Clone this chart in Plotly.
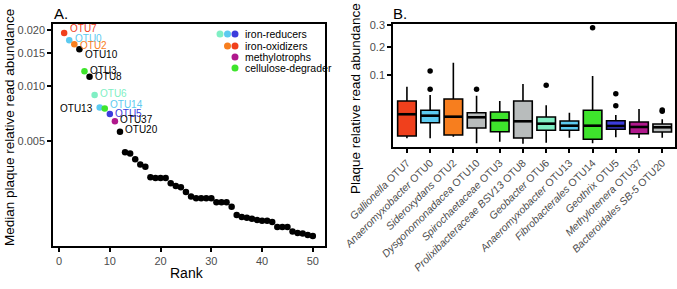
import numpy as np
import plotly.graph_objects as go

# ---------------- Panel A data ----------------
ranks = list(range(1, 51))
median_abund = [0.0194, 0.0177, 0.0168, 0.0158, 0.0120, 0.0112, 0.0089, 0.0076, 0.0075, 0.0070, 0.0064, 0.0056,
                0.00433, 0.00426, 0.00396, 0.00371, 0.00361, 0.00316, 0.00313, 0.00313, 0.00313, 0.00293,
                0.00283, 0.00279, 0.00263, 0.00248, 0.00243, 0.00243, 0.00243, 0.00243, 0.00231, 0.00231,
                0.00231, 0.00218, 0.00197, 0.00192, 0.00190, 0.00188, 0.00185, 0.00183, 0.00183, 0.00180,
                0.00169, 0.00169, 0.00169, 0.00160, 0.00157, 0.00156, 0.00153, 0.00151]
otu_labels = ["OTU7", "OTU0", "OTU2", "OTU10", "OTU3", "OTU8", "OTU6", "OTU13", "OTU14", "OTU5", "OTU37", "OTU20"]

RED, ORANGE, LBLUE, MINT, GREEN, BLUE, MAG, GREY = ("#f0401c", "#f77e1e", "#5ccaf0", "#80efc4",
                                                    "#3ee42c", "#3c3cdc", "#b0188c", "#b8bcbc")
point_colors = [RED, LBLUE, ORANGE, "black", GREEN, "black", MINT, LBLUE, GREEN, BLUE, MAG, "black"] + ["black"] * 38
label_colors = [RED, LBLUE, ORANGE, "black", "black", "black", MINT, "black", LBLUE, BLUE, "black", "black"]
label_side = ["r", "r", "r", "r", "r", "r", "r", "l", "r", "r", "r", "r"]
label_dy = [-4, -2, 1, 5, -1, 0, -1, 1, -4, -1, -2, -2]

legend_names = ["iron-reducers", "iron-oxidizers", "methylotrophs", "cellulose-degrader"]
legend_colors = [[MINT, LBLUE, BLUE], [ORANGE, RED], [MAG], [GREEN]]

# ---------------- Panel B data ----------------
genera = ["Gallionella", "Anaeromyxobacter", "Sideroxydans", "Dysgonomonadacea", "Spirochaetaceae",
          "Prolixibacteraceae BSV13", "Geobacter", "Anaeromyxobacter", "Fibrobacterales", "Geothrix",
          "Methylotenera", "Bacteroidales SB-5"]
otus = ["OTU7", "OTU0", "OTU2", "OTU10", "OTU3", "OTU8", "OTU6", "OTU13", "OTU14", "OTU5", "OTU37", "OTU20"]
box_colors = [RED, LBLUE, ORANGE, GREY, GREEN, GREY, MINT, LBLUE, GREEN, BLUE, MAG, GREY]
lower_w = [0.00078, 0.00078, 0.00124, 0.00003, 0.00015, 0.00001, 0.00006, 0.00094, 0.00003, 0.00106, 0.00086, 0.00094]
q1 = [0.00148, 0.00986, 0.00185, 0.00563, 0.00338, 0.00086, 0.00416, 0.00416, 0.00054, 0.00478, 0.00240, 0.00322]
med = [0.0190, 0.01725, 0.01607, 0.01538, 0.01217, 0.01118, 0.00898, 0.00732, 0.00732, 0.00709, 0.00634, 0.00612]
q3 = [0.0394, 0.02436, 0.0432, 0.02105, 0.0220, 0.0394, 0.01573, 0.01147, 0.02436, 0.01177, 0.01051, 0.00872]
upper_w = [0.0697, 0.0511, 0.1398, 0.0497, 0.0394, 0.0764, 0.0320, 0.02105, 0.0980, 0.0181, 0.02625, 0.0132]
outlier_x = [1, 1, 3, 6, 8, 9, 9, 11, 11]
outlier_y = [0.1128, 0.0636, 0.0636, 0.0732, 0.2853, 0.0538, 0.0314, 0.0248, 0.0230]
b_ticks = [0.1, 0.2, 0.3]

W, H = 677, 289
FONT = "Liberation Sans"


def px(xp):
    return xp / W


def py(yp):
    return 1 - yp / H


fig = go.Figure()

# Panel A points
fig.add_trace(go.Scatter(x=ranks, y=median_abund, mode="markers", xaxis="x", yaxis="y",
                         marker=dict(size=6.5, color=point_colors), showlegend=False, hoverinfo="skip"))
annotations = []
for i, lab in enumerate(otu_labels):
    annotations.append(dict(x=ranks[i], y=float(np.log10(median_abund[i])), xref="x", yref="y", text=lab,
                            showarrow=False, font=dict(size=10, color=label_colors[i], family=FONT),
                            xanchor="left" if label_side[i] == "r" else "right",
                            xshift=3.5 if label_side[i] == "r" else -5, yshift=-label_dy[i]))

# Panel B boxes
xs = list(range(len(genera)))
for i in xs:
    fig.add_trace(go.Box(x=[i], q1=[float(np.sqrt(q1[i]))], median=[float(np.sqrt(med[i]))],
                         q3=[float(np.sqrt(q3[i]))],
                         lowerfence=[float(np.sqrt(lower_w[i]))], upperfence=[float(np.sqrt(upper_w[i]))],
                         xaxis="x2", yaxis="y2", fillcolor=box_colors[i], width=0.8, whiskerwidth=0,
                         line=dict(color="black", width=1.6), boxpoints=False, showlegend=False,
                         hoverinfo="skip"))
    fig.add_trace(go.Scatter(x=[i - 0.4, i + 0.4], y=[float(np.sqrt(med[i]))] * 2, mode="lines",
                             xaxis="x2", yaxis="y2",
                             line=dict(color="black", width=2.6), showlegend=False, hoverinfo="skip"))
fig.add_trace(go.Scatter(x=outlier_x, y=[float(v) for v in np.sqrt(outlier_y)], mode="markers",
                         xaxis="x2", yaxis="y2",
                         marker=dict(size=5.5, color="black"), showlegend=False, hoverinfo="skip"))

# Legend in panel A (paper coords, pixel-sized circles)
shapes = []
leg_y = [34, 46, 57, 68]
for r, (name, cols) in enumerate(zip(legend_names, legend_colors)):
    n = len(cols)
    for k, c in enumerate(cols):
        cx = 235 - 7.5 * (n - 1 - k)
        shapes.append(dict(type="circle", xref="paper", yref="paper", xsizemode="pixel", ysizemode="pixel",
                           xanchor=px(cx), yanchor=py(leg_y[r]), x0=-3.5, x1=3.5, y0=-3.5, y1=3.5,
                           fillcolor=c, line=dict(width=0)))
    annotations.append(dict(x=px(243), y=py(leg_y[r]), xref="paper", yref="paper", text=name,
                            showarrow=False, xanchor="left", yanchor="middle",
                            font=dict(size=10.5, color="black", family=FONT)))

annotations += [
    dict(x=px(52), y=py(13), xref="paper", yref="paper", text="A.", showarrow=False, xanchor="left",
         yanchor="middle", font=dict(size=15, color="black", family=FONT)),
    dict(x=px(391), y=py(13), xref="paper", yref="paper", text="B.", showarrow=False, xanchor="left",
         yanchor="middle", font=dict(size=15, color="black", family=FONT)),
    dict(x=px(9), y=py(128), xref="paper", yref="paper", text="Median plaque relative read abundance",
         showarrow=False, textangle=-90, xanchor="center", yanchor="middle",
         font=dict(size=13.5, color="black", family=FONT)),
    dict(x=px(187), y=py(273), xref="paper", yref="paper", text="Rank", showarrow=False,
         xanchor="center", yanchor="middle", font=dict(size=14, color="black", family=FONT)),
    dict(x=px(356), y=py(99), xref="paper", yref="paper", text="Plaque relative read abundance",
         showarrow=False, textangle=-90, xanchor="center", yanchor="middle",
         font=dict(size=13.5, color="black", family=FONT)),
]

tickfont = dict(size=11, color="#4d4d4d", family=FONT)
common = dict(showline=True, linecolor="black", linewidth=1.5, mirror=True, showgrid=False, zeroline=False,
              ticks="outside", ticklen=4, tickwidth=1.5, tickcolor="black", automargin=False)

fig.update_layout(
    template="none",
    width=W, height=H, margin=dict(l=0, r=0, t=0, b=0, pad=0), autosize=False,
    paper_bgcolor="white", plot_bgcolor="white",
    xaxis=dict(domain=[px(53), px(325)], range=[-1.2, 52.4], tickvals=[0, 10, 20, 30, 40, 50],
               anchor="y", tickfont=tickfont, **common),
    yaxis=dict(domain=[py(246), py(24)], type="log",
               range=[float(np.log10(0.001333)), float(np.log10(0.0217))],
               tickvals=[0.005, 0.010, 0.015, 0.020], ticktext=["0.005", "0.010", "0.015", "0.020"],
               anchor="x", tickfont=tickfont, **common),
    xaxis2=dict(domain=[px(393), px(675)], range=[-0.6, 11.55], tickvals=xs,
                ticktext=[f"<i>{g}</i> {o}" for g, o in zip(genera, otus)], tickangle=-45,
                anchor="y2", tickfont=dict(size=10.5, color="#4d4d4d", family=FONT), **common),
    yaxis2=dict(domain=[py(147), py(24)], range=[-0.012, 0.551],
                tickvals=[float(v) for v in np.sqrt(b_ticks)],
                ticktext=[str(t) for t in b_ticks], anchor="x2", tickfont=tickfont, **common),
    annotations=annotations,
    shapes=shapes,
    showlegend=False,
)

# remove the default 8px page margin so the figure fills the window exactly
fig.write_html("out.html", config={"displayModeBar": False},
               post_script="document.body.style.margin='0px';")
